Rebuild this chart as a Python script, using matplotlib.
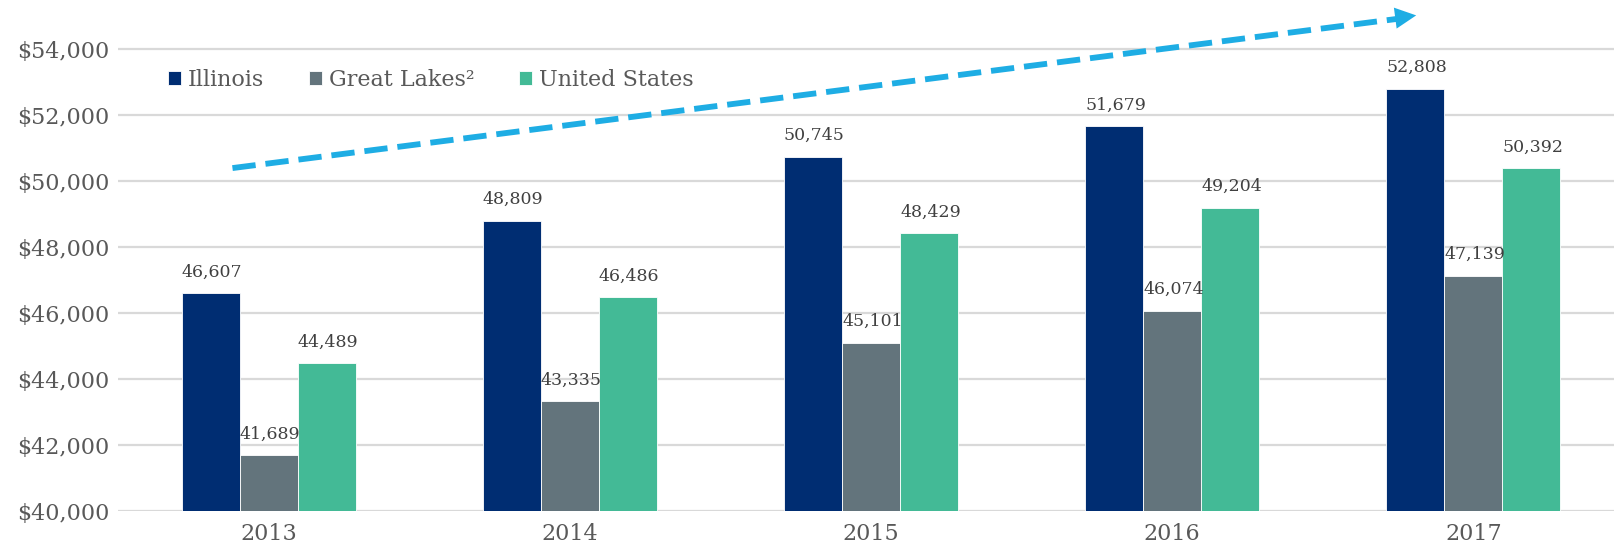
import matplotlib
matplotlib.use("Agg")
import matplotlib.pyplot as plt
import numpy as np

# Input data
years = ["2013", "2014", "2015", "2016", "2017"]
illinois = [46607, 48809, 50745, 51679, 52808]
great_lakes = [41689, 43335, 45101, 46074, 47139]
united_states = [44489, 46486, 48429, 49204, 50392]
series_names = ["Illinois", "Great Lakes²", "United States"]
series_colors = ["#002D72", "#63747C", "#43BA96"]

plt.rcParams["font.family"] = ["DejaVu Serif"]

fig = plt.figure(figsize=(16.15, 5.56), dpi=100)
ax = fig.add_axes([118 / 1615, 1 - 511 / 556, 1 - 118 / 1615, (511 - 16.4) / 556])

x = np.arange(len(years))
width = 0.1925
all_series = [illinois, great_lakes, united_states]
for i, (vals, name, col) in enumerate(zip(all_series, series_names, series_colors)):
    pos = x + (i - 1) * width
    ax.bar(pos, vals, width=width, color=col, label=name, zorder=3,
           edgecolor="white", linewidth=0.6)
    for px, v in zip(pos, vals):
        ax.annotate(f"{v:,}", (px, v), xytext=(1, 9), textcoords="offset points",
                    ha="center", va="bottom", fontsize=12.5, color="#404040",
                    zorder=4)

ax.set_ylim(40000, 55000)
ax.set_xlim(-0.5, 4.47)
ax.set_yticks(range(40000, 54001, 2000))
ax.set_yticklabels([f"${v:,}" for v in range(40000, 54001, 2000)])
ax.set_xticks(x)
ax.set_xticklabels(years)
ax.tick_params(axis="both", length=0, labelsize=16, colors="#595959")
ax.tick_params(axis="y", pad=6)
ax.tick_params(axis="x", pad=9)
ax.grid(axis="y", color="#D9D9D9", linewidth=1.6, zorder=0)
for s in ax.spines.values():
    s.set_visible(False)

# trend arrow
x0, y0 = -0.12, 50400
x1, y1 = 3.76, 54940
ax.plot([x0, x1], [y0, y1], color="#1EADE4", linewidth=4.2,
        linestyle=(0, (4.0, 1.7)), solid_capstyle="butt", dash_capstyle="butt",
        zorder=5, clip_on=False)
ax.annotate("", xy=(3.81, 55031), xytext=(3.70, 54900),
            arrowprops=dict(arrowstyle="-|>", color="#1EADE4", lw=0,
                            mutation_scale=38, shrinkA=0, shrinkB=0),
            annotation_clip=False, zorder=6)

leg = ax.legend(loc="upper left", bbox_to_anchor=(0.02, 0.935), ncol=3, frameon=False,
                fontsize=16, handlelength=0.6, handleheight=0.6,
                handletextpad=0.3, columnspacing=2.0)
for t in leg.get_texts():
    t.set_color("#595959")

fig.savefig("out.png", dpi=100)
